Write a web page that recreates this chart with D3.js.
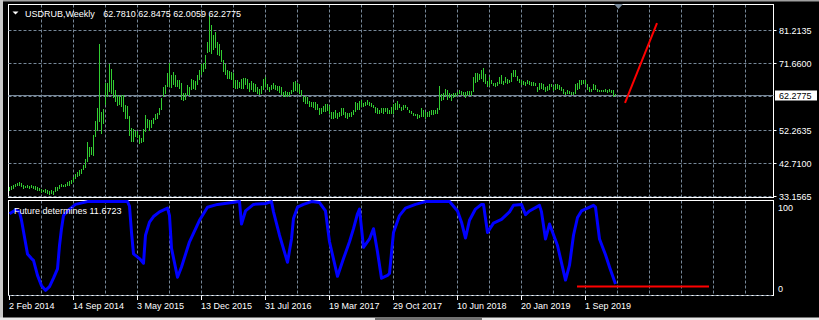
<!DOCTYPE html>
<html><head><meta charset="utf-8">
<script src="https://cdn.jsdelivr.net/npm/d3@7"></script>
<style>html,body{margin:0;padding:0;background:#000;overflow:hidden}svg{display:block}text{font-family:"Liberation Sans",Arial,sans-serif;font-size:9px}</style>
</head><body><svg id="c" width="819" height="320"></svg>
<script>
const symbolTitle = "USDRUB,Weekly";
const lastOHLC = "62.7810 62.8475 62.0059 62.2775";
const indicatorTitle = "Future determines 11.6723";
const lastClose = 62.2775;
const priceTicks = [81.2135, 71.66, 62.1065, 52.2635, 42.71, 33.1565];
const priceTickLabels = ["81.2135", "71.6600", "", "52.2635", "42.7100", "33.1565"];
const dateTickIdx = [0, 32, 64, 96, 128, 160, 192, 224, 256, 288];
const dateTickLabels = ["2 Feb 2014", "14 Sep 2014", "3 May 2015", "13 Dec 2015", "31 Jul 2016", "19 Mar 2017", "29 Oct 2017", "10 Jun 2018", "20 Jan 2019", "1 Sep 2019"];
const indTicks = [100, 0];
// weekly bars (index 0 = week of 2 Feb 2014)
const highs = [35.6,35.9,36.3,36.6,36.9,37.1,36.9,36.3,36.1,36.3,36.1,36.3,36.1,35.9,35.6,35.3,35.1,34.9,35.1,34.9,
34.6,34.9,34.6,35.6,35.8,36.3,36.6,36.4,36.6,37.1,37.3,37.8,38.5,39.5,40.0,40.5,41.0,42.1,43.7,48.7,
47.3,47.3,50.7,54.8,58.5,77.1,57.5,58.3,66.0,65.8,71.3,69.9,66.7,63.8,62.5,62.2,62.5,62.4,59.6,59.1,
56.3,52.8,52.4,52.1,51.9,50.7,49.9,52.4,56.7,55.5,55.1,55.1,55.7,57.0,57.3,58.7,61.4,64.8,65.3,68.7,
71.6,68.2,69.2,68.2,66.7,66.7,65.8,63.1,63.1,65.3,64.8,67.0,66.7,66.4,68.2,69.6,71.3,71.6,74.0,77.9,
85.7,82.8,79.8,80.6,77.9,77.1,75.5,72.6,71.3,69.6,69.3,69.2,68.7,66.7,66.7,66.2,67.0,67.4,67.4,67.2,
65.8,66.4,66.0,65.6,64.6,64.3,65.0,67.2,67.5,65.6,64.6,65.3,65.9,65.3,65.0,65.0,64.6,63.3,63.6,63.3,
63.3,63.8,66.2,66.5,65.9,65.6,64.0,62.1,62.1,61.7,60.7,60.4,60.4,60.4,59.7,58.5,58.5,59.1,59.7,59.9,
59.1,57.5,57.5,58.0,57.2,57.5,58.5,58.5,57.5,57.2,57.2,57.5,58.2,60.4,60.1,60.7,60.9,60.1,60.4,60.9,
60.4,60.0,59.6,58.9,58.5,58.2,58.5,58.5,58.5,58.5,58.0,58.9,59.7,60.1,60.7,59.9,58.9,59.4,59.4,58.9,
58.2,57.8,57.2,57.0,56.8,56.5,58.5,58.2,57.5,57.5,57.8,58.0,58.0,58.2,58.5,65.0,62.8,63.0,64.3,64.0,
63.0,62.8,63.0,63.0,63.3,64.0,63.6,63.3,63.3,63.6,63.6,63.6,67.7,68.7,68.9,68.5,69.6,70.4,68.5,66.5,
67.5,66.9,65.9,65.9,66.2,67.5,68.2,66.5,67.5,67.2,66.7,68.7,69.6,69.8,67.9,67.2,66.9,66.5,66.2,66.9,
66.5,66.2,66.2,65.9,64.8,65.8,65.8,65.6,64.6,65.0,65.6,65.6,65.0,65.6,65.6,65.3,64.8,64.3,63.3,63.8,
63.6,63.3,63.3,65.6,65.8,66.7,66.9,66.9,66.9,65.6,64.6,64.3,65.6,65.3,64.3,64.0,64.0,64.0,64.3,64.0,
64.3,64.0,63.8,62.85];
const lows = [34.6,34.8,35.1,35.6,35.9,36.1,35.6,35.1,35.3,35.3,35.1,35.3,35.1,34.9,34.6,34.4,34.0,34.2,34.0,33.7,
33.5,33.6,33.5,34.2,34.6,35.1,35.6,35.6,35.6,35.9,36.1,36.6,37.1,37.9,38.5,39.0,39.5,40.5,41.2,42.9,
44.4,44.9,44.7,50.2,52.1,54.6,51.2,54.1,59.6,61.9,63.3,62.8,61.4,60.4,59.2,59.4,58.9,57.5,55.5,55.4,
50.5,48.7,48.9,50.2,49.9,48.3,48.5,48.9,51.7,52.8,52.1,52.8,54.1,55.1,55.5,56.5,58.0,61.9,62.8,64.8,
64.8,64.5,65.3,64.8,64.8,64.3,60.9,60.6,60.9,62.4,62.2,63.8,64.3,63.8,65.3,66.7,68.2,69.2,70.1,74.5,
75.0,74.2,75.5,76.0,74.0,73.8,71.9,69.2,68.2,67.0,67.2,66.7,64.5,64.3,64.3,64.5,64.3,64.3,65.3,64.3,
63.3,63.8,63.3,63.3,62.8,62.3,62.8,63.8,64.8,63.8,63.3,63.8,64.3,64.0,63.6,63.0,62.3,61.9,61.7,61.9,
62.1,62.6,63.3,63.6,63.3,62.6,62.1,60.4,59.9,59.7,58.9,58.8,58.5,58.2,58.0,56.5,57.0,57.5,57.5,57.8,
57.0,55.5,55.5,55.8,55.5,56.0,56.2,56.5,55.8,55.5,56.0,56.0,56.5,57.5,58.0,58.2,58.8,58.9,59.1,59.4,
59.1,58.9,58.5,57.2,56.8,57.0,57.2,57.0,57.5,56.8,57.0,57.0,57.0,58.0,58.2,58.5,57.8,58.2,58.5,58.0,
57.2,56.8,56.2,56.2,55.5,55.8,56.0,56.0,55.5,56.0,56.0,56.5,56.5,56.8,57.0,58.0,60.7,61.1,62.1,61.1,
61.4,60.7,61.4,61.7,62.1,62.6,62.3,62.1,61.4,62.1,62.3,62.2,63.3,65.8,66.2,66.7,67.2,66.2,65.6,64.8,
65.0,65.6,65.0,64.8,65.0,65.6,65.6,65.3,65.8,65.6,65.9,66.2,67.7,67.7,66.5,65.9,65.3,65.3,65.0,65.6,
65.3,65.0,65.0,65.0,63.3,63.8,64.3,63.8,63.3,63.6,64.0,64.6,63.6,64.0,64.3,63.8,63.6,62.6,62.3,62.6,
62.6,62.3,62.3,62.8,64.0,64.3,65.3,65.6,65.3,63.8,63.3,63.3,64.0,63.8,63.3,63.3,63.3,63.3,63.3,63.0,
63.3,63.0,61.9,62.01];
// indicator line vertices: [bar index, value]
const indIdx = [0,3,5,6,9,11,12,14,16,18,20,22,24,25,26,27,30,33,39,59,60,61,62,65,67,68,70,72,75,79,80,81,84,86,90,95,99,104,115,116,118,122,128,131,132,135,139,141,142,144,147,151,155,158,160,164,167,170,172,174,175,177,180,182,184,186,189,190,192,195,198,203,208,220,224,226,228,230,233,236,237,239,242,246,250,252,256,258,260,265,266,268,270,274,278,280,282,284,286,289,292,293,295,298,300,303];
const indVal = [87,91,89,80,44,39,37,21,10,5,9,18,28,53,71,85,92,97,100,100,95,67,44,39,34,64,78,84,89,93,85,50,19,30,57,80,94,97,100,76,90,97,98,100,89,64,35,60,82,94,97,100,99,90,57,20,39,57,71,87,92,51,60,71,46,18,21,23,67,85,93,97,100,100,90,78,61,80,92,97,97,67,77,81,89,96,97,86,90,96,89,60,76,53,16,32,64,83,90,93,96,94,60,43,30,11.6723];
// user trend lines
const priceTrendIdx = [308, 324];
const priceTrendVal = [60.1, 83.3];
const indTrendIdx = [284, 350];
const indTrendVal = [9, 9];

const svg = d3.select("#c");
const W = 819, H = 320;
const L = 8.5, R = 773.5, mTop = 4.5, mBot = 197.5, iTop = 200.5, iBot = 295.5;
const grid = "#778899";
const x = d3.scaleLinear().domain([0, 382]).range([9, 773]);
const y = d3.scaleLinear().domain([33.1565, 81.2135]).range([195.7, 30.3]);
const yi = d3.scaleLinear().domain([0, 100]).range([295, 201.6]);
const px = v => Math.round(v) + 0.5;

svg.append("rect").attr("width", W).attr("height", H).attr("fill", "#000");
svg.append("rect").attr("x", 0).attr("y", 0).attr("width", W).attr("height", 1.5).attr("fill", "#a0a0a0");
svg.append("rect").attr("x", 0).attr("y", 0).attr("width", 3).attr("height", H).attr("fill", "#c8c8c8");
svg.append("rect").attr("x", 0).attr("y", 317.5).attr("width", W).attr("height", 2.5).attr("fill", "#e8e8e8");
svg.append("rect").attr("x", 375).attr("y", 317.5).attr("width", 107).attr("height", 2.5).attr("fill", "#707070");

// vertical grid
const vIdx = d3.range(16, 380, 16);
[[mTop, mBot], [iTop, iBot]].forEach(([t, b]) => {
  svg.append("g").selectAll("line").data(vIdx).join("line")
    .attr("x1", d => px(x(d))).attr("x2", d => px(x(d))).attr("y1", t).attr("y2", b)
    .attr("stroke", grid).attr("stroke-dasharray", "3,2");
});
// borders
svg.append("rect").attr("x", L).attr("y", mTop).attr("width", R - L).attr("height", mBot - mTop).attr("fill", "none").attr("stroke", "#fff");
svg.append("rect").attr("x", L).attr("y", iTop).attr("width", R - L).attr("height", iBot - iTop).attr("fill", "none").attr("stroke", "#fff");
// horizontal price grid
svg.append("g").selectAll("line").data(priceTicks).join("line")
  .attr("x1", L).attr("x2", R).attr("y1", d => px(y(d))).attr("y2", d => px(y(d)))
  .attr("stroke", grid).attr("stroke-dasharray", "3,2");
// indicator zero grid over border
svg.append("line").attr("x1", L).attr("x2", R).attr("y1", iBot).attr("y2", iBot).attr("stroke", grid).attr("stroke-dasharray", "3,2");
// current price line
svg.append("line").attr("x1", L).attr("x2", R).attr("y1", px(y(lastClose))).attr("y2", px(y(lastClose))).attr("stroke", grid);

// bars
svg.append("g").selectAll("rect").data(highs).join("rect")
  .attr("x", (d, i) => x(i)).attr("width", 1)
  .attr("y", (d, i) => Math.round(y(d)))
  .attr("height", (d, i) => Math.max(1, Math.round(y(lows[i])) - Math.round(y(d))))
  .attr("fill", "#32cd32");

// price trend line
svg.append("line").attr("x1", x(priceTrendIdx[0])).attr("y1", y(priceTrendVal[0]))
  .attr("x2", x(priceTrendIdx[1])).attr("y2", y(priceTrendVal[1]))
  .attr("stroke", "#ff0000").attr("stroke-width", 2);

// indicator line
const pts = indIdx.map((d, i) => [d, indVal[i]]);
svg.append("path").attr("d", d3.line().x(d => x(d[0]) + 0.5).y(d => yi(d[1]))(pts))
  .attr("fill", "none").attr("stroke", "#0000ff").attr("stroke-width", 3).attr("stroke-linejoin", "round");
svg.append("line").attr("x1", x(indTrendIdx[0])).attr("y1", yi(indTrendVal[0]))
  .attr("x2", x(indTrendIdx[1])).attr("y2", yi(indTrendVal[1]))
  .attr("stroke", "#ff0000").attr("stroke-width", 2);

// right price axis
priceTicks.forEach((v, i) => {
  if (!priceTickLabels[i]) return;
  const yy = px(y(v));
  svg.append("line").attr("x1", R).attr("x2", R + 3).attr("y1", yy).attr("y2", yy).attr("stroke", "#fff");
  svg.append("text").attr("x", 779).attr("y", yy + 3.3).attr("fill", "#fff").text(priceTickLabels[i]);
});
const cy = px(y(lastClose));
svg.append("rect").attr("x", 775).attr("y", cy - 5).attr("width", 42).attr("height", 10).attr("fill", "#fff");
svg.append("text").attr("x", 779).attr("y", cy + 3.3).attr("fill", "#000").text(lastClose.toFixed(4));

// indicator axis labels (clamped inside panel)
indTicks.forEach(v => {
  const yy = Math.min(Math.max(yi(v), iTop + 7), iBot - 6.5);
  svg.append("text").attr("x", 778).attr("y", yy + 3.3).attr("fill", "#fff").text(String(v));
});

// date axis
dateTickIdx.forEach((d, i) => {
  svg.append("line").attr("x1", px(x(d))).attr("x2", px(x(d))).attr("y1", iBot).attr("y2", 300).attr("stroke", "#fff");
  svg.append("text").attr("x", x(d)).attr("y", 308.5).attr("fill", "#fff").text(dateTickLabels[i]);
});

// headers
svg.append("path").attr("d", "M12.5,11.5 L18.5,11.5 L15.5,14.5 Z").attr("fill", "#fff");
svg.append("text").attr("x", 25).attr("y", 16.5).attr("fill", "#fff").text(symbolTitle);
svg.append("text").attr("x", 103.3).attr("y", 16.5).attr("fill", "#fff").text(lastOHLC);
svg.append("text").attr("x", 14).attr("y", 213.5).attr("fill", "#fff").text(indicatorTitle);

// shift marker
const sx = x(highs.length) + 1.5;
svg.append("path").attr("d", `M${sx - 4.5},4 L${sx + 4.5},4 L${sx},9 Z`).attr("fill", grid);
</script></body></html>
